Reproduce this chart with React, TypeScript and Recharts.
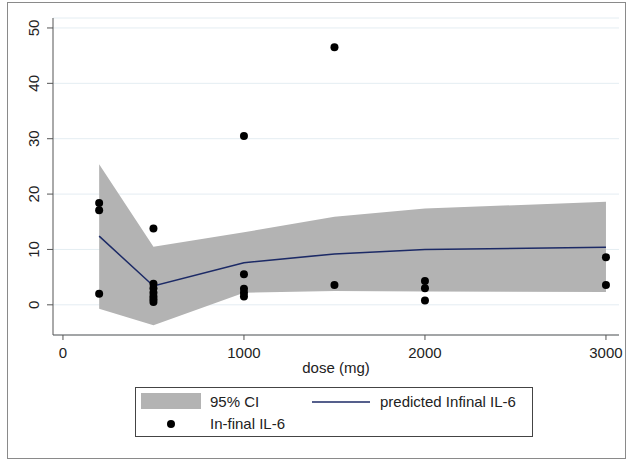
import React from 'react';
import {
  ComposedChart,
  Area,
  Line,
  Scatter,
  XAxis,
  YAxis,
  CartesianGrid,
  Legend,
} from 'recharts';

// Fitted curve (by dose)
const curveDoses = [200, 500, 1000, 1500, 2000, 3000];
const ciLow = [-0.7, -3.7, 2.2, 2.5, 2.4, 2.3];
const ciHigh = [25.4, 10.5, 13.1, 15.9, 17.4, 18.6];
const predicted = [12.4, 3.4, 7.6, 9.2, 10.0, 10.4];

// Observed points
const pointDoses = [200, 200, 200, 500, 500, 500, 500, 500, 500, 500, 1000, 1000, 1000, 1000, 1000, 1500, 1500, 2000, 2000, 2000, 3000, 3000];
const pointValues = [18.4, 17.1, 2.0, 13.8, 3.8, 3.0, 2.2, 1.5, 1.0, 0.5, 30.5, 5.5, 2.9, 2.2, 1.5, 46.5, 3.6, 4.3, 3.0, 0.8, 8.6, 3.6];

const xTicks = [0, 1000, 2000, 3000];
const yTicks = [0, 10, 20, 30, 40, 50];

const legendLabels = ['95% CI', 'predicted Infinal IL-6', 'In-final IL-6'];

const curveData = curveDoses.map((d, i) => ({
  dose: d,
  ci: [ciLow[i], ciHigh[i]],
  pred: predicted[i],
}));

const pointData = pointDoses.map((d, i) => ({ dose: d, il6: pointValues[i] }));

const FONT = '"Liberation Sans", Arial, sans-serif';
const BAND = '#b3b3b3';
const NAVY = '#1c2a66';
const AXIS = '#555555';

const YTick = (props: any) => {
  const { x, y, payload } = props;
  const cx = x - 11;
  return (
    <text
      x={cx}
      y={y}
      dy="0.35em"
      textAnchor="middle"
      fontSize={15}
      fontFamily={FONT}
      fill="#222"
      transform={`rotate(-90, ${cx}, ${y})`}
    >
      {payload.value}
    </text>
  );
};

const LegendBox = () => (
  <svg width={399} height={51} style={{ display: 'block' }}>
    <rect x={0.5} y={0.5} width={397} height={49} fill="#fff" stroke="#444" strokeWidth={1} />
    <rect x={6} y={6} width={60} height={16} fill={BAND} />
    <text x={75} y={15} dy="0.35em" fontSize={15} fontFamily={FONT} fill="#222">
      {legendLabels[0]}
    </text>
    <line x1={177} y1={15} x2={235} y2={15} stroke={NAVY} strokeWidth={1.5} />
    <text x={245} y={15} dy="0.35em" fontSize={15} fontFamily={FONT} fill="#222">
      {legendLabels[1]}
    </text>
    <circle cx={36} cy={37} r={4} fill="#000" />
    <text x={75} y={37} dy="0.35em" fontSize={15} fontFamily={FONT} fill="#222">
      {legendLabels[2]}
    </text>
  </svg>
);

const Dot = (props: any) => {
  const { cx, cy } = props;
  if (cx == null || cy == null) return null;
  return <circle cx={cx} cy={cy} r={4} fill="#000" />;
};

export default function App() {
  return (
    <div style={{ position: 'absolute', left: 0, top: 0, width: 627, height: 460, background: '#fff' }}>
      <div
        style={{
          position: 'absolute',
          left: 7,
          top: 2,
          width: 619,
          height: 457,
          border: '1px solid #8a8a8a',
          boxSizing: 'border-box',
        }}
      />
      <div style={{ position: 'absolute', left: 0, top: 0 }}>
        <ComposedChart
          width={627}
          height={460}
          data={curveData}
          margin={{ top: 18, right: 8, left: 0, bottom: 98 }}
          style={{ fontFamily: FONT }}
        >
          <CartesianGrid horizontal vertical={false} stroke="#e4edf2" strokeWidth={1} />
          <XAxis
            dataKey="dose"
            type="number"
            domain={[-55, 3072]}
            ticks={xTicks}
            allowDataOverflow
            height={27}
            tickSize={5}
            tickMargin={7}
            stroke={AXIS}
            tick={{ fontSize: 15, fill: '#222', fontFamily: FONT }}
            label={{ value: 'dose (mg)', position: 'bottom', offset: 0, fontSize: 15, fill: '#222', fontFamily: FONT }}
          />
          <YAxis
            type="number"
            domain={[-5.45, 51.8]}
            ticks={yTicks}
            allowDataOverflow
            width={53}
            tickSize={6}
            stroke={AXIS}
            tick={<YTick />}
          />
          <Area
            dataKey="ci"
            type="linear"
            stroke="none"
            fill={BAND}
            fillOpacity={1}
            isAnimationActive={false}
            activeDot={false}
            dot={false}
          />
          <Line
            dataKey="pred"
            type="linear"
            stroke={NAVY}
            strokeWidth={1.5}
            dot={false}
            activeDot={false}
            isAnimationActive={false}
          />
          <Scatter data={pointData} dataKey="il6" fill="#000" shape={<Dot />} isAnimationActive={false} />
          <Legend
            layout="vertical"
            align="center"
            verticalAlign="middle"
            wrapperStyle={{ left: 135, top: 387, width: 399, height: 51 }}
            content={() => <LegendBox />}
          />
        </ComposedChart>
      </div>
    </div>
  );
}
